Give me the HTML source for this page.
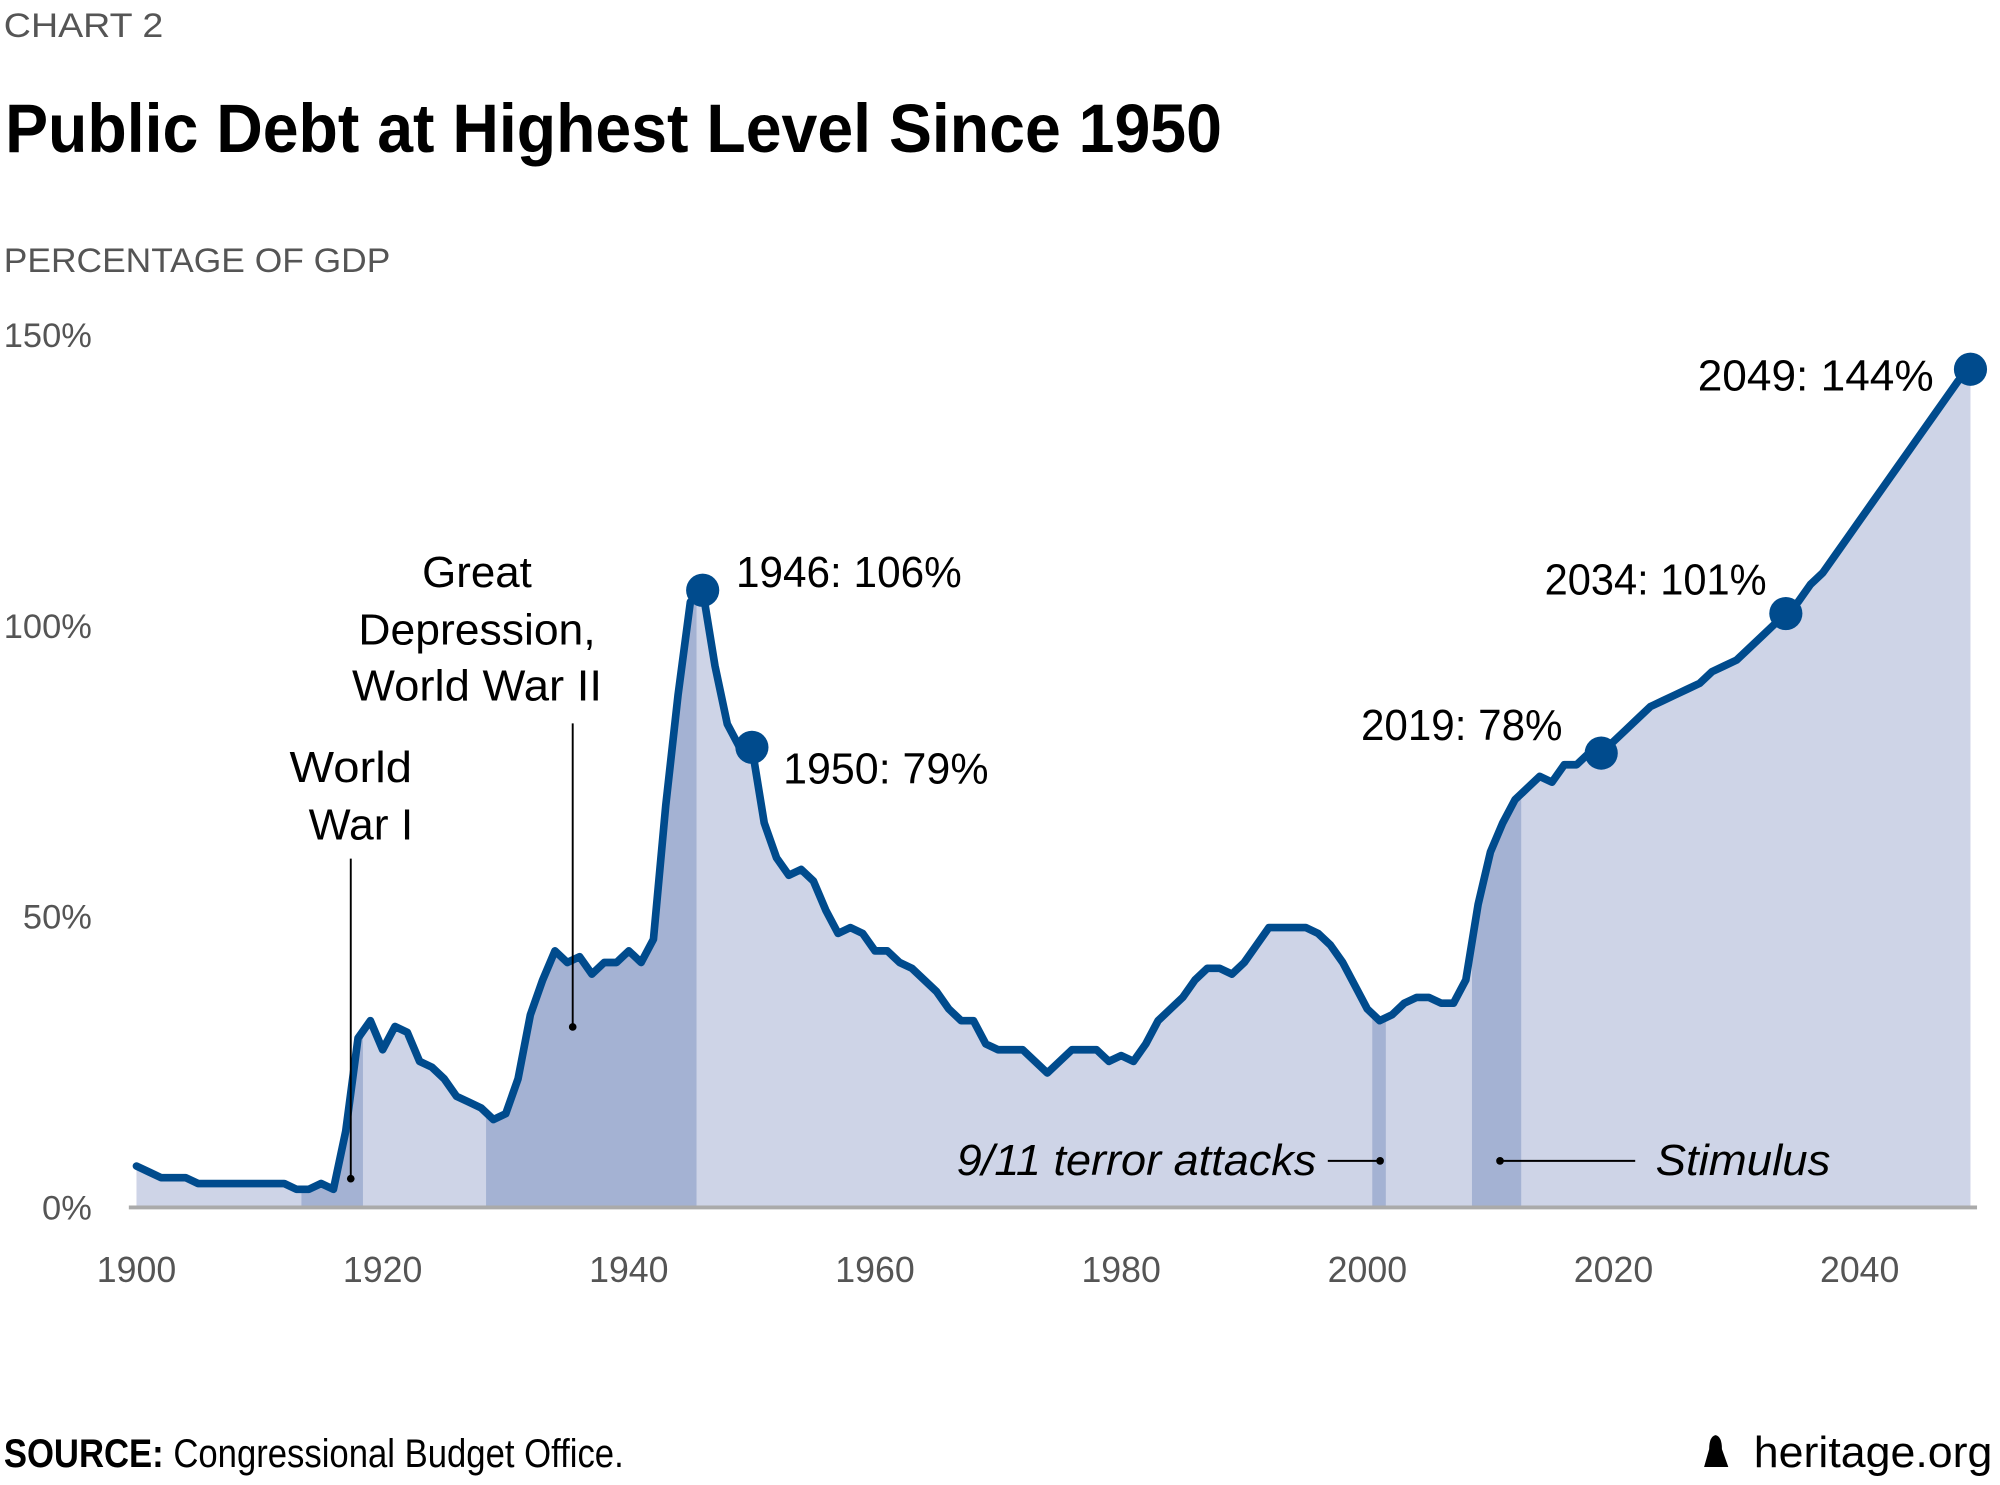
<!DOCTYPE html>
<html><head><meta charset="utf-8"><style>
html,body{margin:0;padding:0;background:#fff;}
svg{display:block;}
text{font-family:"Liberation Sans Narrow","Liberation Sans",sans-serif;}
</style></head><body>
<svg id="chart" width="2000" height="1485" viewBox="0 0 1568 1164" xmlns="http://www.w3.org/2000/svg">
<text x="3" y="29" font-size="27" fill="#555" textLength="125" lengthAdjust="spacingAndGlyphs">CHART 2</text>
<text x="4" y="119" font-size="54" font-weight="bold" fill="#000" textLength="954" lengthAdjust="spacingAndGlyphs">Public Debt at Highest Level Since 1950</text>
<text x="3" y="213" font-size="27" fill="#555" textLength="303" lengthAdjust="spacingAndGlyphs">PERCENTAGE OF GDP</text>
<g id="shades"></g>
<g id="area"></g>
<line x1="101" y1="946.5" x2="1550" y2="946.5" stroke="#aaa" stroke-width="3"/>
<g id="yticks"></g>
<g id="xticks"></g>
<g id="line"></g>
<g fill="#000" font-size="34">
<text x="275" y="613" text-anchor="middle" textLength="96" lengthAdjust="spacingAndGlyphs">World</text>
<text x="283" y="658" text-anchor="middle" textLength="82" lengthAdjust="spacingAndGlyphs">War I</text>
<line x1="275" y1="673" x2="275" y2="924" stroke="#000" stroke-width="1.5"/><circle cx="275" cy="924" r="3"/>
<text x="374" y="460" text-anchor="middle" textLength="86" lengthAdjust="spacingAndGlyphs">Great</text>
<text x="374" y="505" text-anchor="middle" textLength="186" lengthAdjust="spacingAndGlyphs">Depression,</text>
<text x="374" y="549" text-anchor="middle" textLength="196" lengthAdjust="spacingAndGlyphs">World War II</text>
<line x1="449" y1="567" x2="449" y2="805" stroke="#000" stroke-width="1.5"/><circle cx="449" cy="805" r="3"/>
<text x="577" y="460" textLength="177" lengthAdjust="spacingAndGlyphs">1946: 106%</text>
<text x="614" y="614" textLength="161" lengthAdjust="spacingAndGlyphs">1950: 79%</text>
<text x="1067" y="580" textLength="158" lengthAdjust="spacingAndGlyphs">2019: 78%</text>
<text x="1211" y="466" textLength="174" lengthAdjust="spacingAndGlyphs">2034: 101%</text>
<text x="1331" y="306" textLength="185" lengthAdjust="spacingAndGlyphs">2049: 144%</text>
<text x="750" y="921" font-style="italic" textLength="282" lengthAdjust="spacingAndGlyphs">9/11 terror attacks</text>
<line x1="1041" y1="910" x2="1082" y2="910" stroke="#000" stroke-width="1.5"/><circle cx="1082" cy="910" r="3"/>
<text x="1298" y="921" font-style="italic" textLength="137" lengthAdjust="spacingAndGlyphs">Stimulus</text>
<line x1="1176" y1="910" x2="1282" y2="910" stroke="#000" stroke-width="1.5"/><circle cx="1176" cy="910" r="3"/>
</g>
<text x="3" y="1150" font-size="31" fill="#000" textLength="486" lengthAdjust="spacingAndGlyphs"><tspan font-weight="bold">SOURCE:</tspan> Congressional Budget Office.</text>
<g>
<path d="M1336 1150 L1340 1136 Q1340 1126 1345 1125 Q1350 1126 1350 1136 L1355 1150 Z" fill="#000"/>
<text x="1375" y="1150" font-size="34" fill="#000" textLength="187" lengthAdjust="spacingAndGlyphs">heritage.org</text>
</g>
</svg>
<script>
const years = [];
for (let y = 1900; y <= 2049; y++) years.push(y);
const debtValues = [7,6,5,5,5,4,4,4,4,4,4,4,4,3,3,4,3,13,29,32,27,31,30,25,24,22,19,18,17,15,16,22,33,39,44,42,43,40,42,42,44,42,46,69,88,104,106,93,83,79,79,66,60,57,58,56,51,47,48,47,44,44,42,41,39,37,34,32,32,28,27,27,27,25,23,25,27,27,27,25,26,25,28,32,34,36,39,41,41,40,42,45,48,48,48,48,47,45,42,38,34,32,33,35,36,36,35,35,39,52,61,66,70,72,74,73,76,76,78,78,80,82,84,86,87,88,89,90,92,93,94,96,98,100,102,104,107,109,112,115,118,121,124,127,130,133,136,139,142,144];
const highlightYears = [1946,1950,2019,2034,2049];
const shadedStart = [1913.4,1928.4,2000.4,2008.5];
const shadedEnd = [1918.4,1945.5,2001.5,2012.5];
const yTicks = [0,50,100,150];
const yTickLabels = ["0%","50%","100%","150%"];
const xTicks = [1900,1920,1940,1960,1980,2000,2020,2040];

const NS = "http://www.w3.org/2000/svg";
const xs = y => 107 + (y - 1900) * (1458 - 107) / 140;
const ys = v => 946 - v * (946 - 262) / 150;
function mk(tag, attrs, parent){const e=document.createElementNS(NS,tag);for(const k in attrs)e.setAttribute(k,attrs[k]);parent.appendChild(e);return e;}

const areaG=document.getElementById('area'), shadeG=document.getElementById('shades');
let d = "M"+xs(years[0])+","+ys(0);
years.forEach((y,i)=>{d+=" L"+xs(y)+","+ys(debtValues[i]);});
d += " L"+xs(years[years.length-1])+","+ys(0)+" Z";
const clip = mk('clipPath',{id:'areaclip'},areaG);
mk('path',{d:d},clip);
const ap = mk('path',{d:d,fill:'#ced4e7'},areaG);


shadedStart.forEach((s,i)=>{
  const r = mk('rect',{x:xs(s),y:0,width:xs(shadedEnd[i])-xs(s),height:946,fill:'#a4b2d3','clip-path':'url(#areaclip)'},areaG);
  
  
});

const lineG=document.getElementById('line');
const pts = years.map((y,i)=>xs(y)+","+ys(debtValues[i])).join(" ");
const pl = mk('polyline',{points:pts,fill:'none',stroke:'#004b8d','stroke-width':6,'stroke-linejoin':'round','stroke-linecap':'round'},lineG);


highlightYears.forEach(y=>{
  const i = years.indexOf(y);
  const c = mk('circle',{cx:xs(y),cy:ys(debtValues[i]),r:13,fill:'#004b8d'},lineG);
  
  
});

const ytG=document.getElementById('yticks');
yTicks.forEach((v,i)=>{
  const t = mk('text',{x:72,y:ys(v)+10,'text-anchor':'end','font-size':27,fill:'#555'},ytG);
  t.textContent = yTickLabels[i];
  
  
});
const xtG=document.getElementById('xticks');
xTicks.forEach(v=>{
  const t = mk('text',{x:xs(v),y:1005,'text-anchor':'middle','font-size':28,fill:'#555'},xtG);
  t.textContent = v;
  
  
});
</script>
</body></html>
